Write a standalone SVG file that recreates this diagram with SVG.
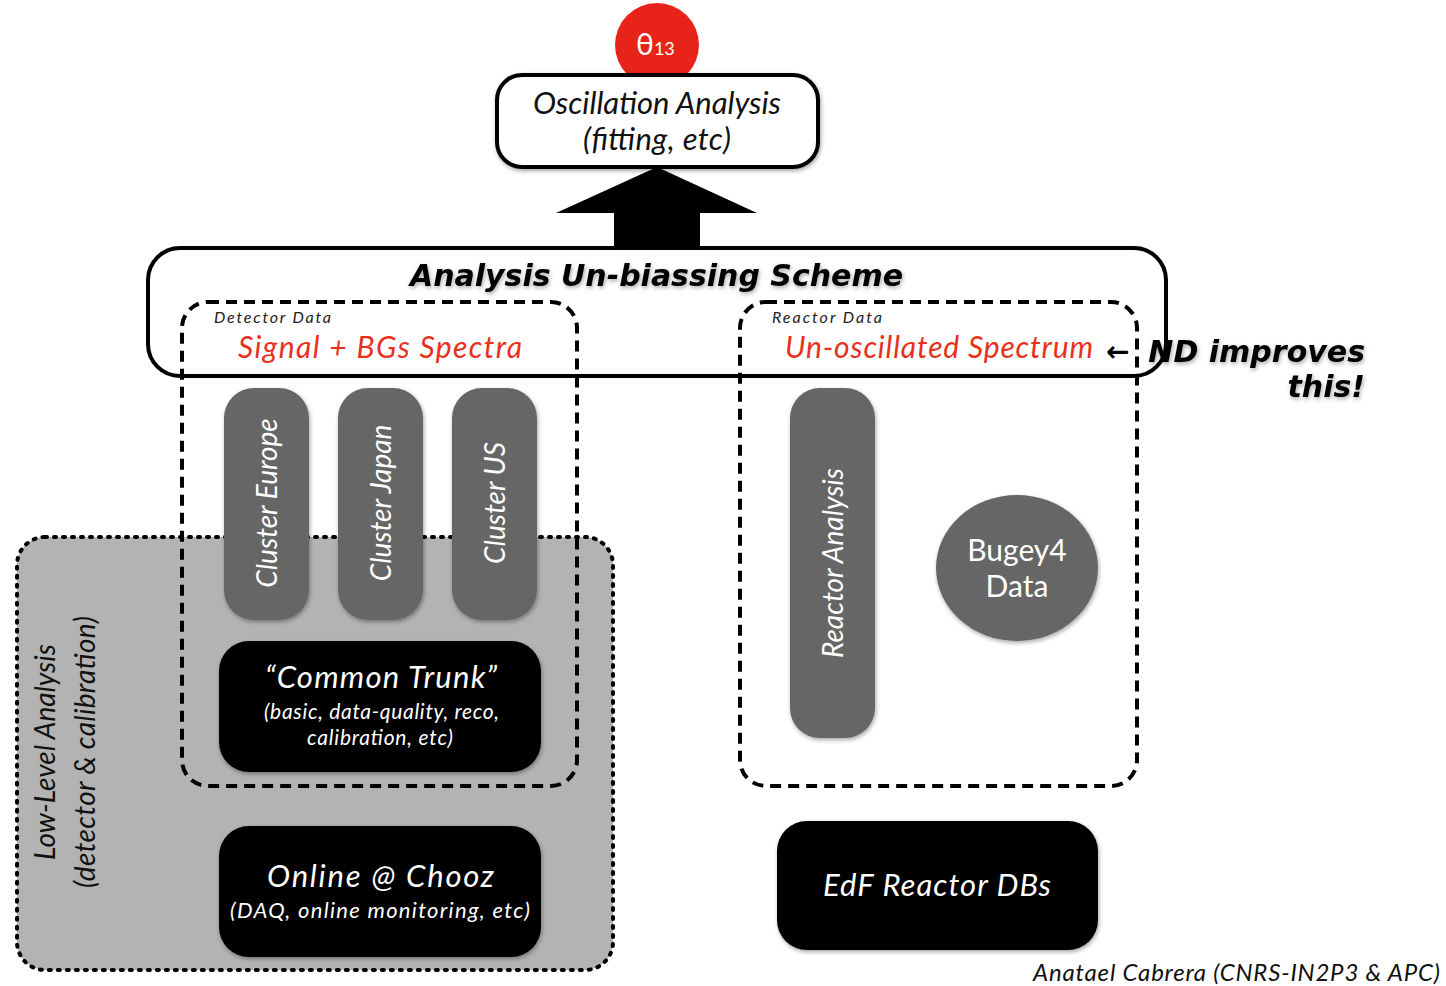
<svg xmlns="http://www.w3.org/2000/svg" width="1446" height="986" viewBox="0 0 1446 986">
<defs>
<style>
.t{font-family:Lato,"Open Sans","Liberation Sans",sans-serif;font-style:italic}
.w{fill:#fff}
.red{fill:#e8301c}
.bold{font-family:"DejaVu Sans","Liberation Sans",sans-serif;font-weight:bold;font-style:italic;fill:#000}
.dash{fill:none;stroke:#000;stroke-width:4;stroke-dasharray:11 7}
.pill{fill:#666}
.blk{fill:#000}
</style>
<filter id="sh" x="-20%" y="-20%" width="140%" height="140%"><feDropShadow dx="1" dy="2" stdDeviation="2" flood-opacity="0.35"/></filter>
</defs>
<rect width="1446" height="986" fill="#fff"/>

<g id="lowlevel">
<rect x="17" y="537" width="596" height="433" rx="28" fill="#b3b3b3" stroke="#000" stroke-width="4" stroke-dasharray="2 7" stroke-linecap="round"/>
<text class="t" transform="translate(55,752) rotate(-90)" text-anchor="middle" font-size="28" fill="#111">Low-Level Analysis</text>
<text class="t" transform="translate(95,752) rotate(-90)" text-anchor="middle" font-size="28" fill="#111" textLength="272" lengthAdjust="spacing">(detector &amp; calibration)</text>
</g>

<g id="connectors">
<polygon points="657,167 757,213 700,213 700,248 614,248 614,213 556,213" fill="#000"/>
</g>

<g id="theta">
<circle cx="657" cy="45" r="42" fill="#e8241a"/>
<text x="636" y="55" font-family="Lato,'Open Sans',sans-serif" font-size="30" fill="#fff">θ<tspan font-size="18">13</tspan></text>
</g>

<g id="oscillation">
<rect x="497" y="75" width="321" height="92" rx="25" fill="#fff" stroke="#000" stroke-width="4" filter="url(#sh)"/>
<text class="t" x="533" y="114" font-size="31" fill="#111" textLength="248" lengthAdjust="spacing">Oscillation Analysis</text>
<text class="t" x="583" y="150" font-size="31" fill="#111" textLength="148" lengthAdjust="spacing">(fitting, etc)</text>
</g>

<g id="scheme">
<rect x="148" y="248" width="1018" height="128" rx="32" fill="none" stroke="#000" stroke-width="4"/>
<text class="bold" x="410" y="286" font-size="30" filter="url(#sh)" textLength="493" lengthAdjust="spacing">Analysis Un-biassing Scheme</text>
</g>

<g id="detector">
<rect class="dash" x="182" y="302" width="395" height="484" rx="26"/>
<text class="t" x="214" y="323" font-size="16" fill="#222" textLength="117" lengthAdjust="spacing">Detector Data</text>
<text class="t red" x="238" y="358" font-size="30" textLength="284" lengthAdjust="spacing">Signal + BGs Spectra</text>
</g>

<g id="reactor">
<rect class="dash" x="740" y="302" width="397" height="484" rx="26"/>
<text class="t" x="772" y="323" font-size="16" fill="#222" textLength="110" lengthAdjust="spacing">Reactor Data</text>
<text class="t red" x="785" y="358" font-size="30" textLength="308" lengthAdjust="spacing">Un-oscillated Spectrum</text>
</g>

<g id="nd-note">
<text x="1106" y="361" font-family="'DejaVu Sans',sans-serif" font-weight="bold" font-size="28" fill="#000">←</text>
<text class="bold" x="1365" y="362" text-anchor="end" font-size="30" filter="url(#sh)">ND improves</text>
<text class="bold" x="1365" y="397" text-anchor="end" font-size="30" filter="url(#sh)">this!</text>
</g>

<g id="cluster-europe">
<rect class="pill" x="224" y="388" width="85" height="232" rx="30" filter="url(#sh)"/>
<text class="t w" transform="translate(277,503) rotate(-90)" text-anchor="middle" font-size="28">Cluster Europe</text>
</g>
<g id="cluster-japan">
<rect class="pill" x="338" y="388" width="85" height="232" rx="30" filter="url(#sh)"/>
<text class="t w" transform="translate(391,503) rotate(-90)" text-anchor="middle" font-size="28">Cluster Japan</text>
</g>
<g id="cluster-us">
<rect class="pill" x="452" y="388" width="85" height="232" rx="30" filter="url(#sh)"/>
<text class="t w" transform="translate(505,503) rotate(-90)" text-anchor="middle" font-size="28">Cluster US</text>
</g>

<g id="common-trunk">
<rect class="blk" x="219" y="641" width="322" height="131" rx="30" filter="url(#sh)"/>
<text class="t w" x="265" y="688" font-size="31" textLength="232" lengthAdjust="spacing">“Common Trunk”</text>
<text class="t w" x="264" y="719" font-size="21" textLength="235" lengthAdjust="spacing">(basic, data-quality, reco,</text>
<text class="t w" x="307" y="745" font-size="21" textLength="146" lengthAdjust="spacing">calibration, etc)</text>
</g>

<g id="online">
<rect class="blk" x="219" y="826" width="322" height="131" rx="30" filter="url(#sh)"/>
<text class="t w" x="267" y="887" font-size="31" textLength="227" lengthAdjust="spacing">Online @ Chooz</text>
<text class="t w" x="230" y="918" font-size="22" textLength="300" lengthAdjust="spacing">(DAQ, online monitoring, etc)</text>
</g>

<g id="reactor-analysis">
<rect class="pill" x="790" y="388" width="85" height="350" rx="30" filter="url(#sh)"/>
<text class="t w" transform="translate(843,563) rotate(-90)" text-anchor="middle" font-size="28">Reactor Analysis</text>
</g>

<g id="bugey4">
<ellipse cx="1017" cy="568" rx="81" ry="73" fill="#666" filter="url(#sh)"/>
<text x="1017" y="561" text-anchor="middle" font-family="Lato,'Open Sans',sans-serif" font-size="30" fill="#fff">Bugey4</text>
<text x="1017" y="597" text-anchor="middle" font-family="Lato,'Open Sans',sans-serif" font-size="30" fill="#fff">Data</text>
</g>

<g id="edf">
<rect class="blk" x="777" y="821" width="321" height="129" rx="30" filter="url(#sh)"/>
<text class="t w" x="823" y="896" font-size="31" textLength="228" lengthAdjust="spacing">EdF Reactor DBs</text>
</g>

<text class="t" x="1033" y="981" font-size="24" fill="#111" textLength="407" lengthAdjust="spacing">Anatael Cabrera (CNRS-IN2P3 &amp; APC)</text>
</svg>
